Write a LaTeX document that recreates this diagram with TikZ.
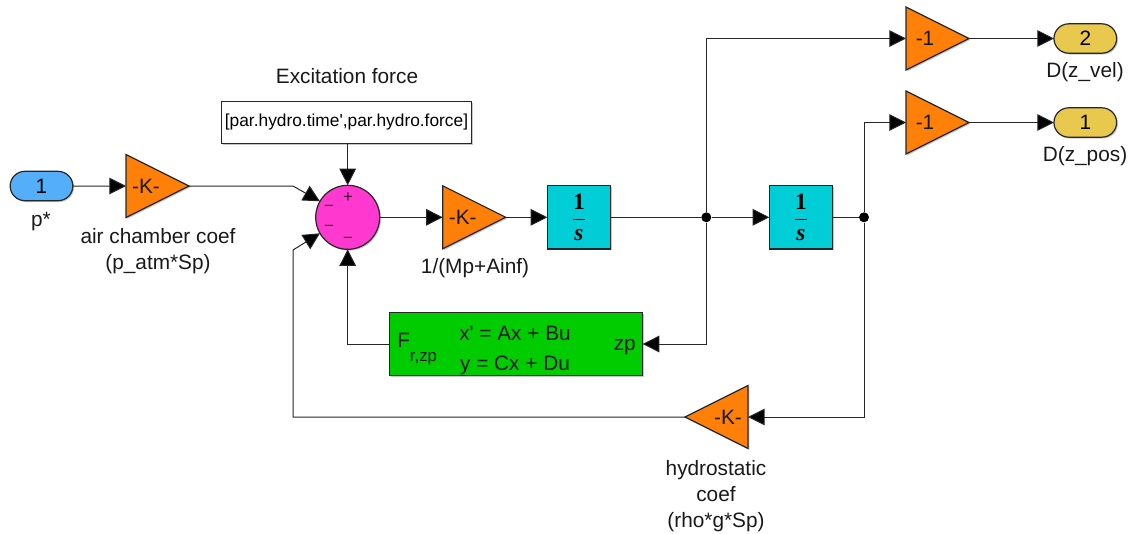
\documentclass[tikz,border=0pt]{standalone}
\usepackage{fontspec}
\setmainfont{Liberation Sans}
\newfontfamily\intserif{Liberation Serif}
\usetikzlibrary{arrows.meta,shapes.geometric,shapes.misc,shadows,calc}
\definecolor{edge}{HTML}{262626}
\definecolor{cOrange}{HTML}{FF8008}
\definecolor{cCyan}{HTML}{00CDD6}
\definecolor{cMag}{HTML}{FF38D0}
\definecolor{cGreen}{HTML}{00CC00}
\definecolor{cBlue}{HTML}{55AEFA}
\definecolor{cGold}{HTML}{E8C94E}
\newcommand{\txtM}{\fontsize{15.6pt}{19.5pt}\selectfont}
\newcommand{\txtS}{\fontsize{12.6pt}{15pt}\selectfont}
\newcommand{\oneovers}{{\fontsize{17.5pt}{21pt}\selectfont$\displaystyle\frac{\hbox{\intserif\bfseries 1}}{\hbox{\intserif\bfseries\itshape s}}$}}
\tikzset{
  blockshadow/.style={general shadow={shadow xshift=1pt,shadow yshift=-1pt,fill=black,fill opacity=.22}},
  blk/.style={draw=edge,line width=.9pt,outer sep=0pt,inner sep=0pt,blockshadow},
  tri/.style={blk,isosceles triangle,isosceles triangle stretches,minimum width=47.25pt,minimum height=47.25pt,fill=cOrange,anchor=apex},
  port/.style={blk,rounded rectangle,minimum width=47pt,minimum height=22pt,text=black,font=\txtM},
  integ/.style={blk,rectangle,fill=cCyan,minimum width=47.5pt,minimum height=47.5pt},
  lab/.style={inner sep=0pt,font=\txtM,text=black!90,align=center},
  wire/.style={draw=edge,line width=.75pt,-{Triangle[length=12.5pt,width=12.5pt,fill=black]}},
  plain/.style={draw=edge,line width=.75pt},
  dotj/.style={circle,fill=black,inner sep=0pt,minimum size=7.5pt},
  sgn/.style={inner sep=0pt,font=\txtS,text=black!75!cMag},
}
\begin{document}
\begin{tikzpicture}[x=.75pt,y=-.75pt]
\useasboundingbox (0,0) rectangle (1133,533);
% blocks
\node[port,fill=cBlue] (inp) at (41.5,186) {1};
\node[lab] (inpL) at (41,221) {p*};
\node[tri] (g1) at (189,186) {};
\node[lab] at ($(g1.lower side)+(20,0)$) (g1T) {-K-};
\node[lab] (g1L) at (158,251) {air chamber coef\\(p\_atm*Sp)};
\node[blk,rectangle,fill=white,minimum width=188pt,minimum height=31pt,font=\fontsize{13pt}{15pt}\selectfont] (const) at (346.5,122.5) {[par.hydro.time\textquotesingle,par.hydro.force]};
\node[lab] (constL) at (347,76) {Excitation force};
\node[blk,circle,fill=cMag,minimum size=48pt] (sum) at (347.7,217.3) {};
\node[sgn] (s1) at (348,198) {+};
\node[sgn] (s2) at (329,208) {−};
\node[sgn] (s3) at (329,228) {−};
\node[sgn] (s4) at (348,240) {−};
\node[tri] (g2) at (505.7,217.3) {};
\node[lab] at ($(g2.lower side)+(20,0)$) (g2T) {-K-};
\node[lab] (g2L) at (475,268.5) {1/(Mp+Ainf)};
\node[integ] (i1) at (579,217.3) {\oneovers};
\node[integ] (i2) at (801,217.3) {\oneovers};
\node[dotj] (j1) at (706.3,217.3) {};
\node[dotj] (j2) at (864,217.3) {};
\node[tri] (g3) at (969,38.5) {};
\node[lab] at ($(g3.lower side)+(19,0)$) (g3T) {-1};
\node[tri] (g4) at (969,122.5) {};
\node[lab] at ($(g4.lower side)+(19,0)$) (g4T) {-1};
\node[port,fill=cGold] (o2) at (1085.3,38.5) {2};
\node[lab] (o2L) at (1085,72) {D(z\_vel)};
\node[port,fill=cGold] (o1) at (1085.3,122.5) {1};
\node[lab] (o1L) at (1085,156) {D(z\_pos)};
\node[blk,rectangle,fill=cGreen,minimum width=190pt,minimum height=47.7pt] (ss) at (516,344) {};
\node[lab,anchor=west] (ssF) at (397,349) {F\raisebox{-1.25ex}{\txtS r,zp}};
\node[lab,anchor=east] (ssZ) at (636,347) {zp};
\node[lab] (ssEq) at (515,350.5) {x\textquotesingle{} = Ax + Bu\\[3pt]y = Cx + Du};
\node[tri,shape border rotate=180] (g5) at (685,417) {};
\node[lab] at ($(g5.lower side)+(-20,0)$) (g5T) {-K-};
\node[lab] (g5L) at (716,496.5) {hydrostatic\\coef\\(rho*g*Sp)};
% bend points
\coordinate (b1) at (293,186);
\coordinate (b2) at (293,250);
% connectors
\draw[wire] (inp) -- (g1.lower side);
\draw[wire] (g1.apex) -- (b1) -- (sum.150);
\draw[wire] (const.south -| sum) -- (sum);
\draw[wire] (sum) -- (g2.lower side);
\draw[wire] (g2.apex) -- (i1);
\draw[plain] (i1) -- (j1);
\draw[wire] (j1) -- (i2);
\draw[plain] (i2) -- (j2);
\draw[wire] (j1) |- (g3.lower side);
\draw[wire] (g3.apex) -- (o2);
\draw[wire] (j2) |- (g4.lower side);
\draw[wire] (g4.apex) -- (o1);
\draw[wire] (j1) |- (ss.east);
\draw[wire] (ss.west) -| (sum.south);
\draw[wire] (j2) |- (g5.lower side);
\draw[wire] (g5.apex) -| (b2) -- (sum.210);
\end{tikzpicture}
\end{document}
